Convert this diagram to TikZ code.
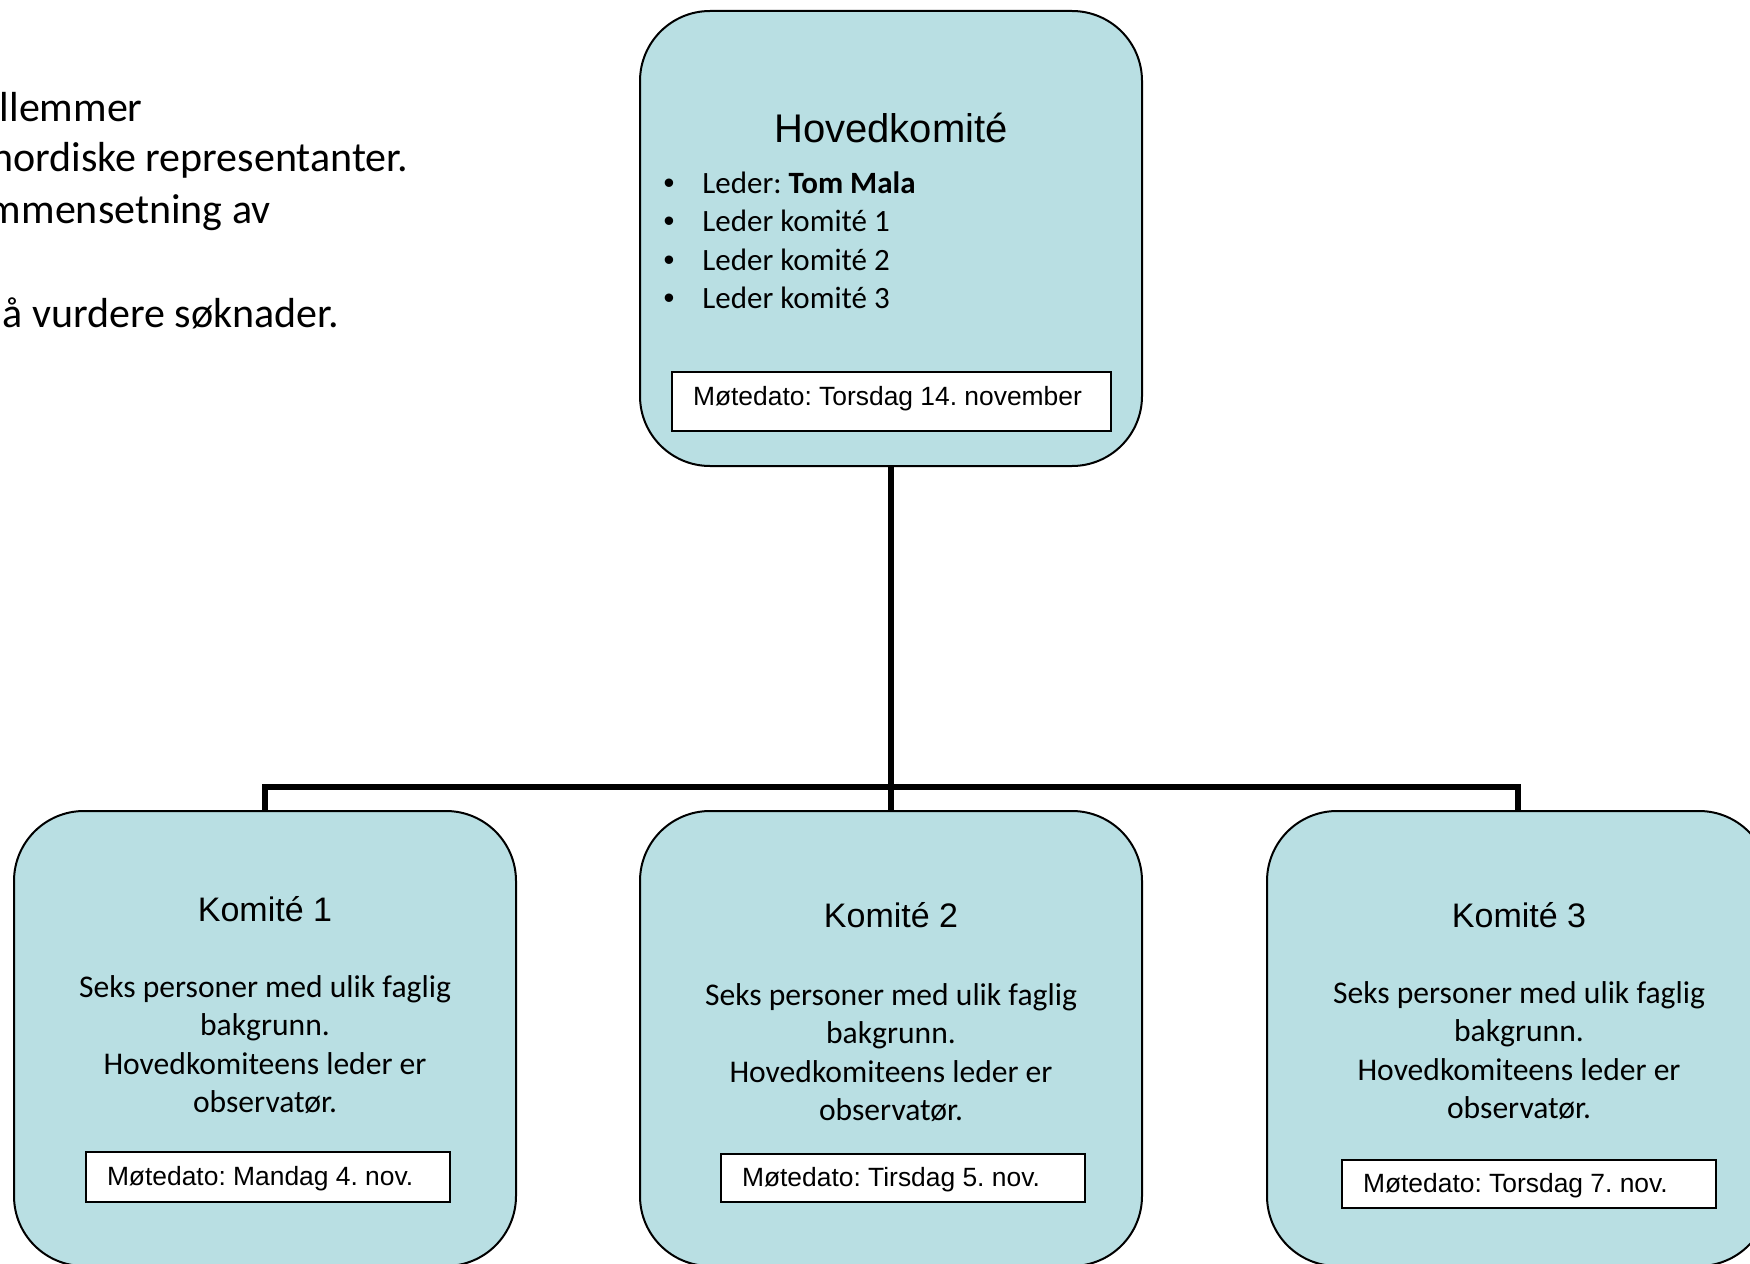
\documentclass[tikz,border=0pt]{standalone}
\usepackage{fontspec}
\setmainfont{Carlito}
\newfontfamily\arial{Liberation Sans}
\usetikzlibrary{positioning}
\definecolor{komfill}{RGB}{185,223,227}
\frenchspacing

\begin{document}
\begin{tikzpicture}[x=0.5pt,y=-0.5pt,
  komite/.style={draw,line width=1pt,fill=komfill,rounded corners=35pt,
    minimum width=251pt,minimum height=227.5pt,inner sep=0pt},
  datebox/.style={draw,line width=1pt,fill=white,inner xsep=10.5pt,inner ysep=0pt,
    align=flush left,text width=#1,text height=1em,text depth=0.13em,minimum height=24.5pt,
    font=\arial\fontsize{13.2}{15}\selectfont},
  tittel/.style={anchor=base,inner sep=0pt,font=\arial\fontsize{17}{20}\selectfont},
  tekst/.style={anchor=north,inner sep=0pt,align=center,font=\fontsize{15.8}{19.25}\selectfont},
  leder/.style={anchor=base west,inner sep=0pt,font=\fontsize{15.5}{19}\selectfont},
  punkt/.style={anchor=base,inner sep=0pt,font=\arial\fontsize{15.5}{19}\selectfont},
  sidetekst/.style={anchor=base east,inner sep=0pt,font=\fontsize{21}{25}\selectfont},
  conn/.style={line width=3pt}]
  \useasboundingbox (0,0) rectangle (1750,1263);
  \clip (0,0) rectangle (1750,1263);
  % text cut off at the left edge
  \node[sidetekst] (s1) at (143,122) {llemmer};
  \node[sidetekst] (s2) at (408,171) {nordiske representanter.};
  \node[sidetekst] (s3) at (271,223) {mmensetning av};
  \node[sidetekst] (s4) at (339,327) {å vurdere søknader.};
  % boxes
  \node[komite] (hoved) at (891,238.5) {};
  \node[komite] (k1) at (265,1038.5) {};
  \node[komite] (k2) at (891,1038.5) {};
  \node[komite] (k3) at (1518,1038.5) {};
  % connectors
  \coordinate (bar) at (891,787);
  \draw[conn] (hoved.south) -- (bar);
  \draw[conn] (k1.north) |- (bar) -| (k3.north);
  \draw[conn] (bar) -- (k2.north);
  % Hovedkomite
  \node[tittel,font=\arial\fontsize{20}{24}\selectfont] (htittel) at (891,142) {Hovedkomité};
  \node[punkt] (p1) at (669,193) {•};
  \node[leder] (l1) at (702,193) {Leder: \textbf{Tom Mala}};
  \node[punkt] (p2) at (669,231.5) {•};
  \node[leder] (l2) at (702,231.5) {Leder komité 1};
  \node[punkt] (p3) at (669,270) {•};
  \node[leder] (l3) at (702,270) {Leder komité 2};
  \node[punkt] (p4) at (669,308.5) {•};
  \node[leder] (l4) at (702,308.5) {Leder komité 3};
  \node[datebox=198.5pt,text height=0.75em,text depth=0.33em,minimum height=29.5pt]
    (hdato) at (891.5,401.5) {Møtedato: Torsdag 14. november};
  % Komite 1-3
  \node[tittel] (t1) at (265,921) {Komité 1};
  \node[tekst] (b1) at (265,975) {Seks personer med ulik faglig\\bakgrunn.\\Hovedkomiteens leder er\\observatør.};
  \node[datebox=161pt,minimum height=25pt] (d1) at (268,1177) {Møtedato: Mandag 4. nov.};
  \node[tittel] (t2) at (891,927) {Komité 2};
  \node[tekst] (b2) at (891,983) {Seks personer med ulik faglig\\bakgrunn.\\Hovedkomiteens leder er\\observatør.};
  \node[datebox=161pt,minimum height=24pt] (d2) at (903,1178) {Møtedato: Tirsdag 5. nov.};
  \node[tittel] (t3) at (1519,927) {Komité 3};
  \node[tekst] (b3) at (1519,981) {Seks personer med ulik faglig\\bakgrunn.\\Hovedkomiteens leder er\\observatør.};
  \node[datebox=166pt,minimum height=24pt] (d3) at (1529,1184) {Møtedato: Torsdag 7. nov.};
\end{tikzpicture}
\end{document}
